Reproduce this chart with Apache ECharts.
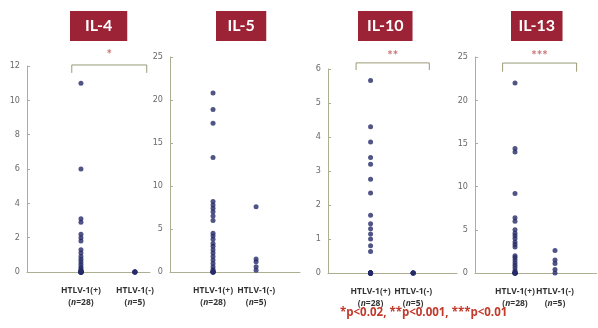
<!DOCTYPE html>
<html>
<head>
<meta charset="utf-8">
<script src="https://cdn.jsdelivr.net/npm/echarts@6/dist/echarts.min.js"></script>
<style>html,body{margin:0;padding:0;background:#fff;}#c{width:598px;height:328px;}</style>
</head>
<body>
<div id="c"></div>
<script>
// ---- data ----
const categories = ['HTLV-1(+)', 'HTLV-1(-)'];
const groupSizes = ['28', '5'];
const panelTitles = ['IL-4', 'IL-5', 'IL-10', 'IL-13'];
const yMax = [12, 25, 6, 25];
const yInterval = [2, 5, 1, 5];
const il4Pos = [11, 6, 3.1, 2.9, 2.2, 2.0, 1.8, 1.3, 1.1, 0.9, 0.75, 0.6, 0.45, 0.3, 0.2, 0.1, 0.05, 0, 0, 0, 0, 0, 0, 0, 0, 0, 0, 0];
const il4Neg = [0, 0, 0, 0, 0];
const il5Pos = [20.8, 18.9, 17.3, 13.3, 8.2, 7.8, 7.4, 7.0, 6.5, 6.0, 4.5, 4.2, 3.8, 3.3, 3.0, 2.6, 2.2, 1.8, 1.4, 1.0, 0.6, 0.3, 0.1, 0, 0, 0, 0, 0];
const il5Neg = [7.6, 1.5, 1.2, 0.6, 0.2];
const il10Pos = [5.66, 4.3, 3.85, 3.4, 3.2, 2.76, 2.35, 1.7, 1.45, 1.3, 1.15, 1.0, 0.8, 0.63, 0, 0, 0, 0, 0, 0, 0, 0, 0, 0, 0, 0, 0, 0];
const il10Neg = [0, 0, 0, 0, 0];
const il13Pos = [22.0, 14.4, 14.0, 9.2, 6.4, 6.0, 5.0, 4.6, 4.3, 4.0, 3.6, 3.3, 3.0, 2.0, 1.8, 1.5, 1.2, 0.9, 0.6, 0.3, 0.1, 0, 0, 0, 0, 0, 0, 0];
const il13Neg = [2.6, 1.5, 1.1, 0.4, 0];
const sigMarks = ['*', '', '**', '***'];
const footnote = '*p<0.02, **p<0.001, ***p<0.01';

// ---- layout ----
const groups = [[il4Pos, il4Neg], [il5Pos, il5Neg], [il10Pos, il10Neg], [il13Pos, il13Neg]];
const grids = [
  {left: 27, top: 66, width: 123, height: 206},
  {left: 170, top: 57, width: 130, height: 215},
  {left: 328, top: 69, width: 129, height: 204},
  {left: 475, top: 57, width: 123, height: 216}
];
const xMax = [2.28, 3.02, 3.03, 3.04];
const titleLeft = [70, 216, 358, 511];
const titlePadX = [15, 11.5, 9, 7.5];
// bracket: [x1, x2, yTop, yEnd, yStar]
const brackets = [
  [0.83, 2.22, 12.06, 11.6, 12.65],
  null,
  [0.66, 2.38, 6.18, 5.97, 6.4],
  [0.69, 2.54, 24.3, 23.3, 25.1]
];

const axisColor = '#aeae90';
const dotColor = '#252a68';
const sigColor = '#c0504d';
const labelFont = '"Open Sans", sans-serif';

const option = {
  animation: false,
  backgroundColor: '#ffffff',
  title: panelTitles.map((t, i) => ({
    text: t,
    left: titleLeft[i],
    top: 11,
    padding: [6, titlePadX[i]],
    backgroundColor: '#9b2335',
    textStyle: {color: '#ffffff', fontSize: 16, fontWeight: 'bold', fontFamily: 'Lato, sans-serif', lineHeight: 18}
  })).concat([{
    text: footnote,
    left: 340,
    top: 307,
    padding: 0,
    textStyle: {color: '#c0392b', fontSize: 11.5, fontWeight: 'bold', fontFamily: labelFont}
  }]),
  grid: grids.map(g => Object.assign({containLabel: false}, g)),
  xAxis: grids.map((g, i) => ({
    type: 'value',
    gridIndex: i,
    min: 0,
    max: xMax[i],
    interval: 1,
    splitLine: {show: false},
    axisTick: {show: false},
    axisLine: {show: true, lineStyle: {color: axisColor, width: 1}},
    axisLabel: {
      show: true,
      margin: 13,
      showMaxLabel: false,
      showMinLabel: false,
      formatter: v => {
        const k = Math.round(v) - 1;
        if (Math.abs(v - Math.round(v)) > 1e-6 || k < 0 || k > 1) return '';
        return '{a|' + categories[k] + '}\n{b|(}{c|n}{b|=' + groupSizes[k] + ')}';
      },
      rich: {
        a: {fontSize: 8.5, fontWeight: 'bold', color: '#333333', fontFamily: labelFont, lineHeight: 12},
        b: {fontSize: 8.5, fontWeight: 'bold', color: '#333333', fontFamily: labelFont, lineHeight: 12},
        c: {fontSize: 8.5, fontWeight: 'bold', fontStyle: 'italic', color: '#333333', fontFamily: labelFont, lineHeight: 12}
      }
    }
  })),
  yAxis: grids.map((g, i) => ({
    type: 'value',
    gridIndex: i,
    min: 0,
    max: yMax[i],
    interval: yInterval[i],
    splitLine: {show: false},
    axisLine: {show: true, lineStyle: {color: axisColor, width: 1}},
    axisTick: {show: true, inside: true, length: 3, lineStyle: {color: axisColor}},
    axisLabel: {margin: 7, fontSize: 9, color: '#6a6a6a', fontFamily: '"DejaVu Sans Condensed", "Liberation Sans Narrow", sans-serif'}
  })),
  series: []
};

groups.forEach((grp, i) => {
  const data = [];
  grp.forEach((vals, k) => vals.forEach(v => data.push([k + 1, v])));
  option.series.push({
    type: 'scatter',
    xAxisIndex: i,
    yAxisIndex: i,
    symbol: 'circle',
    symbolSize: 5,
    itemStyle: {color: dotColor},
    data: data
  });
  const b = brackets[i];
  if (b) {
    option.series.push({
      type: 'line',
      xAxisIndex: i,
      yAxisIndex: i,
      clip: false,
      symbol: 'none',
      silent: true,
      lineStyle: {color: '#9a9a78', width: 1},
      data: [[b[0], b[3]], [b[0], b[2]], [b[1], b[2]], [b[1], b[3]]]
    });
    option.series.push({
      type: 'scatter',
      xAxisIndex: i,
      yAxisIndex: i,
      clip: false,
      symbolSize: 1,
      silent: true,
      itemStyle: {color: 'rgba(0,0,0,0)'},
      label: {show: true, position: 'inside', formatter: sigMarks[i], color: sigColor, fontSize: 13, fontWeight: 'bold', fontFamily: 'Lato, sans-serif'},
      data: [[(b[0] + b[1]) / 2, b[4]]]
    });
  }
});

const chart = echarts.init(document.getElementById('c'), null, {renderer: 'canvas'});
chart.setOption(option);
</script>
</body>
</html>
